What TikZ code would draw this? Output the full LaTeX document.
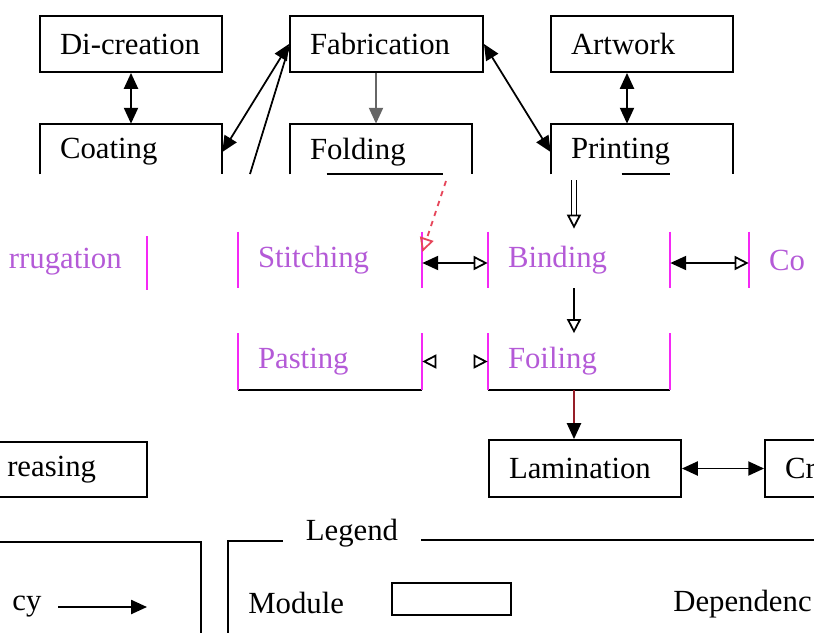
\documentclass[tikz,border=0pt]{standalone}
\usepackage{fontspec}
\setmainfont{Liberation Serif}
\usetikzlibrary{arrows.meta,calc}
\definecolor{glpink}{RGB}{245,40,245}
\definecolor{gltext}{RGB}{180,90,215}
\definecolor{glred}{RGB}{230,70,90}
\definecolor{darkred}{RGB}{150,30,40}
\tikzset{
  box/.style={rectangle, minimum width=3.64cm, minimum height=1.12cm, inner xsep=0.4cm, text width=2.84cm, align=left, font=\fontsize{17.5}{20}\selectfont},
  module/.style={box, draw=black, line width=1.1pt},
  faded/.style={box, text=gltext},
  keytext/.style={font=\fontsize{17.5}{20}\selectfont, inner sep=0pt},
  dep/.style={-{Triangle[length=9pt,width=8pt]}, line width=1pt},
  bidep/.style={{Triangle[length=9pt,width=8pt]}-{Triangle[length=9pt,width=8pt]}, line width=1pt},
  opendep/.style={-{Triangle[open,length=8pt,width=8pt]}, line width=1pt},
  halfdep/.style={{Triangle[length=9pt,width=8pt]}-{Triangle[open,length=8pt,width=8pt]}, line width=1pt}
}
\begin{document}
\begin{tikzpicture}[x=0.02cm, y=-0.02cm]
  \useasboundingbox (0,0) rectangle (814,632);
  \clip (0,0) rectangle (814,632);

  %--- Top rows ---
  \node[module] (dicr) at (131,44) {Di-creation};
  \node[module, minimum width=3.86cm, text width=3.06cm] (fab) at (386.5,44) {Fabrication};
  \node[module] (art) at (642,44) {Artwork};

  \node[box] (coat) at (131,152) {Coating};
  \node[box] (fold) at (381,152) {Folding};
  \node[box] (print) at (642,152) {Printing};
  \foreach \n in {coat,fold,print}
    \draw[line width=1.1pt] ($(\n.south west)+(0,-6)$) |- (\n.north east) -- ($(\n.south east)+(0,-6)$);
  \draw[line width=1.1pt] ($(fold.south west)+(37,-6)$) -- ++(116,0);
  \draw[line width=1.1pt] ($(print.south west)+(71,-6)$) -- ++(48,0);

  \coordinate (fabx) at (376,0);
  \coordinate (artx) at (627,0);
  \coordinate (bindx) at (574,0);
  \coordinate (fabtail) at (250,174);
  \coordinate (foldtail) at (446,181);

  \draw[bidep] (dicr) -- (coat);
  \draw[dep, black!60] (fab.south -| fabx) -- (fold.north -| fabx);
  \draw[bidep] (art.south -| artx) -- (print.north -| artx);
  \draw[bidep] (fab.west) -- (coat.east);
  \draw[bidep] (fab.east) -- (print.west);
  \draw[line width=1pt] ($(fab.west)+(0,3)$) -- (fabtail);

  %--- Faded rows ---
  \node[faded, align=right, text width=2.4cm, inner xsep=0.5cm, minimum width=0pt, anchor=east] (corr) at (147,261.5) {rrugation};
  \node[faded, minimum width=3.68cm, text width=2.88cm] (stit) at (330,260) {Stitching};
  \node[faded] (bind) at (579,260) {Binding};
  \node[faded] (co) at (840,260) {Co};
  \node[faded, minimum width=3.68cm, text width=2.88cm] (past) at (330,361.5) {Pasting};
  \node[faded] (foil) at (579,361.5) {Foiling};

  \draw[glpink, line width=1.1pt] ($(corr.north east)+(0,3)$) -- (corr.south east);
  \draw[glpink, line width=1.1pt] (co.north west) -- (co.south west);
  \foreach \n in {stit,bind}
    \draw[glpink, line width=1.1pt] (\n.north west) -- (\n.south west) (\n.north east) -- (\n.south east);
  \foreach \n in {past,foil}{
    \draw[line width=1.1pt] (\n.south west) -- (\n.south east);
    \draw[glpink, line width=1.1pt] (\n.north west) -- (\n.south west) (\n.north east) -- (\n.south east);
  }

  \draw[glred, dashed, line width=1pt, -{Triangle[open,length=8pt,width=8pt]}] (foldtail) -- ($(stit.east)+(0,-8)$);
  \draw[halfdep] ($(stit.east)+(0,3)$) -- ($(bind.west)+(0,3)$);
  \draw[halfdep] ($(bind.east)+(0,3)$) -- ($(co.west)+(0,3)$);
  \draw[line width=0.7pt, double distance=1.8pt] (print.south -| bindx) -- ($(bind.north -| bindx)+(0,-16)$);
  \draw[opendep] ($(bind.north -| bindx)+(0,-16)$) -- ($(bind.north -| bindx)+(0,-3)$);
  \draw[opendep] (bind.south -| bindx) -- (foil.north -| bindx);
  \draw[white, line width=1pt, {Triangle[open,color=black,length=8pt,width=8pt]}-{Triangle[open,color=black,length=8pt,width=8pt]}] (past.east) -- (foil.west);

  %--- Bottom row ---
  \node[module, align=right, text width=2.0cm, inner xsep=1.02cm, minimum width=0pt, minimum height=1.1cm, anchor=east] (crease) at (148,469.5) {reasing};
  \node[module, minimum width=3.84cm, text width=3.04cm, minimum height=1.14cm] (lam) at (585,468.5) {Lamination};
  \node[module, minimum height=1.14cm] (cr) at (856,468.5) {Cr};

  \draw[darkred, line width=1pt, -{Triangle[length=9pt,width=8pt,color=black]}] (foil.south -| bindx) -- (lam.north -| bindx);
  \draw[bidep] (lam) -- (cr);

  %--- Legend ---
  \draw[line width=1.1pt] (-10,542) -- (201,542) -- (201,650);
  \node[keytext, anchor=west] (cyfrag) at (12,607) {cy};
  \coordinate (keyA) at (58,607);
  \coordinate (keyB) at (147,607);
  \draw[dep] (keyA) -- (keyB);

  \node[keytext] (legend) at (352,533) {Legend};
  \draw[line width=1.1pt] (228,650) -- (228,541) -- (283,541);
  \draw[line width=1.1pt] (421,540) -- (830,540);
  \node[keytext, anchor=west] (modtxt) at (248,603) {Module};
  \node[draw, line width=1.1pt, minimum width=2.38cm, minimum height=0.64cm, inner sep=0pt] (modkey) at (451.5,599) {};
  \node[keytext, anchor=west] (deptxt) at (673,604) {Dependenc};
\end{tikzpicture}
\end{document}
